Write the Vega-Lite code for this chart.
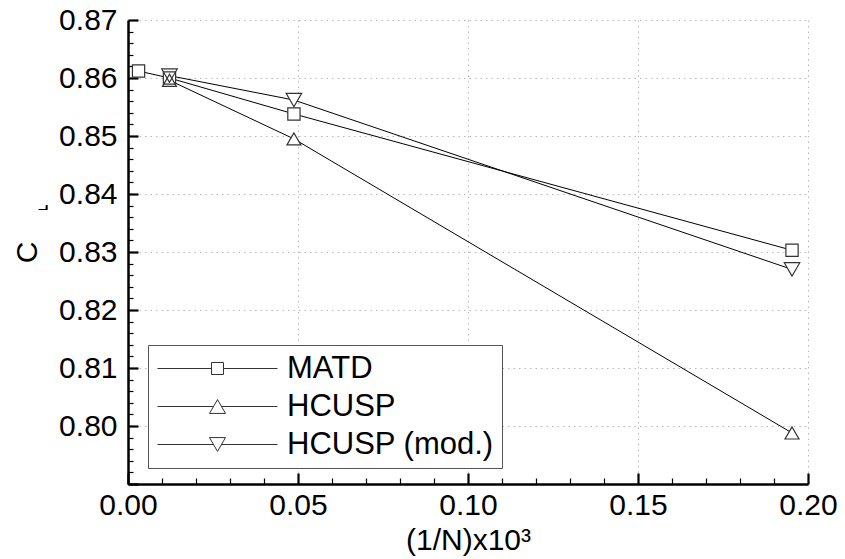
{
  "$schema": "https://vega.github.io/schema/vega-lite/v6.json",
  "width": 680,
  "height": 464,
  "autosize": {"type": "none"},
  "padding": {"left": 128, "top": 20, "right": 37, "bottom": 75},
  "background": "white",
  "config": {
    "view": {"stroke": null},
    "font": "Liberation Sans",
    "axis": {
      "labelFont": "Liberation Sans",
      "titleFont": "Liberation Sans",
      "labelColor": "black",
      "titleColor": "black",
      "labelFontSize": 30,
      "titleFontSize": 30,
      "titleFontWeight": "normal",
      "domainColor": "black",
      "domainWidth": 2.5,
      "tickColor": "black",
      "gridColor": "#b8b8b8",
      "gridDash": [1.5, 4],
      "gridWidth": 1,
      "labelOverlap": false,
      "labelFlush": false
    }
  },
  "data": {
    "values": [
      {"n": 0.0031, "cl": 0.8612, "scheme": "MATD"},
      {"n": 0.0122, "cl": 0.8600, "scheme": "MATD"},
      {"n": 0.0488, "cl": 0.8538, "scheme": "MATD"},
      {"n": 0.1953, "cl": 0.8303, "scheme": "MATD"},
      {"n": 0.0122, "cl": 0.8596, "scheme": "HCUSP"},
      {"n": 0.0488, "cl": 0.8495, "scheme": "HCUSP"},
      {"n": 0.1953, "cl": 0.7988, "scheme": "HCUSP"},
      {"n": 0.0122, "cl": 0.8604, "scheme": "HCUSP (mod.)"},
      {"n": 0.0488, "cl": 0.8562, "scheme": "HCUSP (mod.)"},
      {"n": 0.1953, "cl": 0.8270, "scheme": "HCUSP (mod.)"}
    ]
  },
  "encoding": {
    "x": {
      "field": "n",
      "type": "quantitative",
      "scale": {"domain": [0, 0.2], "nice": false, "zero": false},
      "axis": {
        "title": "(1/N)x10³",
        "values": [0, 0.01, 0.02, 0.03, 0.04, 0.05, 0.06, 0.07, 0.08, 0.09, 0.1, 0.11, 0.12, 0.13, 0.14, 0.15, 0.16, 0.17, 0.18, 0.19, 0.2],
        "labelExpr": "abs(datum.value * 20 - round(datum.value * 20)) < 1e-6 ? format(datum.value, '.2f') : ''",
        "tickSize": {"condition": {"test": "abs(datum.value * 20 - round(datum.value * 20)) < 1e-6", "value": -11}, "value": -6},
        "tickWidth": {"condition": {"test": "abs(datum.value * 20 - round(datum.value * 20)) < 1e-6", "value": 2.2}, "value": 1.2},
        "gridOpacity": {"condition": {"test": "abs(datum.value * 20 - round(datum.value * 20)) < 1e-6", "value": 1}, "value": 0},
        "labelPadding": 17,
        "titlePadding": 0
      }
    },
    "y": {
      "field": "cl",
      "type": "quantitative",
      "scale": {"domain": [0.79, 0.87], "nice": false, "zero": false},
      "axis": {
        "title": "C",
        "titleAngle": -90,
        "values": [0.79, 0.792, 0.794, 0.796, 0.798, 0.8, 0.802, 0.804, 0.806, 0.808, 0.81, 0.812, 0.814, 0.816, 0.818, 0.82, 0.822, 0.824, 0.826, 0.828, 0.83, 0.832, 0.834, 0.836, 0.838, 0.84, 0.842, 0.844, 0.846, 0.848, 0.85, 0.852, 0.854, 0.856, 0.858, 0.86, 0.862, 0.864, 0.866, 0.868, 0.87],
        "labelExpr": "abs(datum.value * 100 - round(datum.value * 100)) < 1e-6 && datum.value > 0.795 ? format(datum.value, '.2f') : ''",
        "tickSize": {"condition": {"test": "abs(datum.value * 100 - round(datum.value * 100)) < 1e-6", "value": -10}, "value": -5},
        "tickWidth": {"condition": {"test": "abs(datum.value * 100 - round(datum.value * 100)) < 1e-6", "value": 2.2}, "value": 1.2},
        "gridOpacity": {"condition": {"test": "abs(datum.value * 100 - round(datum.value * 100)) < 1e-6", "value": 1}, "value": 0},
        "labelPadding": 21,
        "titlePadding": 16
      }
    }
  },
  "layer": [
    {
      "mark": {"type": "line", "color": "black", "strokeWidth": 1},
      "encoding": {"detail": {"field": "scheme", "type": "nominal"}}
    },
    {
      "mark": {"type": "point", "filled": true, "fill": "white", "stroke": null, "opacity": 1},
      "encoding": {
        "shape": {"field": "scheme", "type": "nominal", "scale": {"domain": ["MATD", "HCUSP", "HCUSP (mod.)"], "range": ["square", "triangle-up", "triangle-down"]}, "legend": null},
        "size": {"field": "scheme", "type": "nominal", "scale": {"domain": ["MATD", "HCUSP", "HCUSP (mod.)"], "range": [150, 240, 240]}, "legend": null}
      }
    },
    {
      "mark": {"type": "point", "filled": false, "stroke": "#333333", "strokeWidth": 1.2, "opacity": 1},
      "encoding": {
        "shape": {"field": "scheme", "type": "nominal", "scale": {"domain": ["MATD", "HCUSP", "HCUSP (mod.)"], "range": ["square", "triangle-up", "triangle-down"]}, "legend": null},
        "size": {"field": "scheme", "type": "nominal", "scale": {"domain": ["MATD", "HCUSP", "HCUSP (mod.)"], "range": [150, 240, 240]}, "legend": null}
      }
    },
    {
      "mark": {"type": "point", "filled": false, "stroke": "#333333", "opacity": 0},
      "encoding": {
        "shape": {
          "field": "scheme",
          "type": "nominal",
          "title": null,
          "scale": {
            "domain": ["MATD", "HCUSP", "HCUSP (mod.)"],
            "range": [
              "M-10,0H-1M1,0H10M-1,-1H1V1H-1Z",
              "M-10,0H-0.667M0.667,0H10M0,-1.155L1.333,1.155L-1.333,1.155Z",
              "M-10,0H-0.667M0.667,0H10M0,1.155L1.333,-1.155L-1.333,-1.155Z"
            ]
          },
          "legend": {
            "orient": "none",
            "legendX": 20,
            "legendY": 325,
            "symbolSize": 144,
            "symbolOpacity": 1,
            "symbolFillColor": "white",
            "symbolStrokeColor": "#333333",
            "symbolStrokeWidth": 1,
            "symbolOffset": 46,
            "labelOffset": 54,
            "labelFont": "Liberation Sans",
            "labelFontSize": 31,
            "labelColor": "black",
            "labelLimit": 400,
            "rowPadding": 6,
            "padding": 8,
            "fillColor": "white",
            "strokeColor": "#555555",
            "cornerRadius": 0
          }
        }
      }
    },
    {
      "mark": {"type": "text", "text": "L", "angle": 270, "fontSize": 11, "font": "Liberation Sans", "color": "black", "clip": false, "align": "center", "baseline": "middle"},
      "encoding": {
        "x": {"datum": -0.0247, "scale": {"domain": [0, 0.2], "nice": false, "zero": false}},
        "y": {"datum": 0.8376, "scale": {"domain": [0.79, 0.87], "nice": false, "zero": false}}
      }
    }
  ],
  "resolve": {"scale": {"shape": "independent", "size": "independent"}}
}
